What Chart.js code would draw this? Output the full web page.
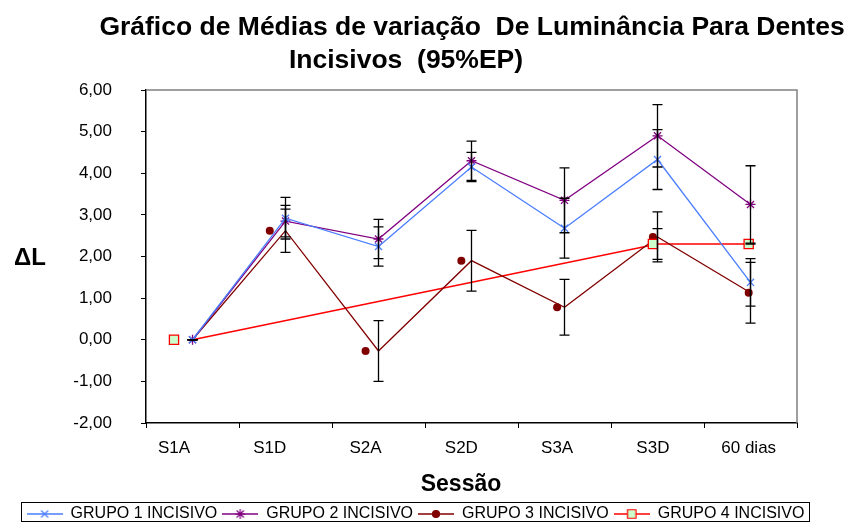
<!DOCTYPE html>
<html>
<head>
<meta charset="utf-8">
<script src="https://cdn.jsdelivr.net/npm/chart.js@4/dist/chart.umd.min.js"></script>
<style>
  html,body{margin:0;padding:0;background:#fff}
  #wrap{width:848px;height:524px;position:relative;overflow:hidden}
</style>
</head>
<body>
<div id="wrap"><canvas id="c"></canvas></div>
<script>
// Data
const sessions = ["S1A","S1D","S2A","S2D","S3A","S3D","60 dias"];
const yTicks = [-2,-1,0,1,2,3,4,5,6];
const grupo1 = [0, 2.92, 2.24, 4.15, 2.68, 4.33, 1.38];
const grupo1Err = [0, 0.50, 0.47, 0.35, 0.72, 0.72, 0.57];
const grupo2 = [0, 2.85, 2.42, 4.30, 3.35, 4.90, 3.25];
const grupo2Err = [0, 0.38, 0.47, 0.47, 0.78, 0.75, 0.93];
const grupo3 = [0, 2.62, -0.27, 1.90, 0.78, 2.47, 1.13];
const grupo3Err = [0, 0.52, 0.73, 0.73, 0.67, 0.60, 0.73];
const grupo4 = [0, null, null, null, null, 2.30, 2.30];
const grupo4Err = [0, null, null, null, null, 0.37, 0];
const names = ["GRUPO 1 INCISIVO","GRUPO 2 INCISIVO","GRUPO 3 INCISIVO","GRUPO 4 INCISIVO"];

const FONT = '"Liberation Sans", Arial, sans-serif';
const C1="#4a7dff", C2="#800080", C3="#800000", C4="#ff0000", SQ="#ccffcc";

const pts = arr => arr.map((v,i)=>({x:i, y:v}));
const fmt = v => v.toFixed(2).replace(".", ",");

// legend icons: line with marker in the middle
function icon(color, style, fill, r, lw){
  const c=document.createElement("canvas"); c.width=36; c.height=14;
  const g=c.getContext("2d");
  g.strokeStyle=color; g.lineWidth=lw;
  g.beginPath(); g.moveTo(0,7); g.lineTo(36,7); g.stroke();
  g.fillStyle=fill; g.lineWidth=1.2;
  Chart.helpers.drawPoint(g,{pointStyle:style,radius:r,borderWidth:1.2,rotation:0},18,7);
  return c;
}

const errorBars = {
  id:"errorBars",
  afterDatasetsDraw(chart){
    const {ctx, scales:{x2, y}} = chart;
    const sets=[[grupo1,grupo1Err],[grupo2,grupo2Err],[grupo3,grupo3Err],[grupo4,grupo4Err]];
    ctx.save();
    ctx.strokeStyle="#000"; ctx.lineWidth=1.3;
    sets.forEach(([vals,errs])=>{
      vals.forEach((v,i)=>{
        if(v==null || errs[i]==null) return;
        const px=x2.getPixelForValue(i), t=y.getPixelForValue(v+errs[i]), b=y.getPixelForValue(v-errs[i]);
        ctx.beginPath();
        ctx.moveTo(px,t); ctx.lineTo(px,b);
        ctx.moveTo(px-5,t); ctx.lineTo(px+5,t);
        ctx.moveTo(px-5,b); ctx.lineTo(px+5,b);
        ctx.stroke();
      });
    });
    ctx.restore();
  }
};

const frame = {
  id:"frame",
  afterDraw(chart){
    const {ctx, chartArea:a, scales:{x2}} = chart;
    ctx.save();
    // plot area border top/right
    ctx.strokeStyle="#808080"; ctx.lineWidth=1.5;
    ctx.beginPath(); ctx.moveTo(a.left,a.top); ctx.lineTo(a.right,a.top); ctx.lineTo(a.right,a.bottom); ctx.stroke();
    // category boundary ticks
    ctx.strokeStyle="#000"; ctx.lineWidth=1;
    for(let k=0;k<=sessions.length;k++){
      const px=Math.round(x2.getPixelForValue(k-0.5))+0.5;
      ctx.beginPath(); ctx.moveTo(px,a.bottom); ctx.lineTo(px,a.bottom+5); ctx.stroke();
    }
    // titles
    ctx.fillStyle="#000"; ctx.textAlign="center"; ctx.textBaseline="middle";
    ctx.font="bold 26.5px "+FONT;
    ctx.fillText("Gráfico de Médias de variação  De Luminância Para Dentes", 472, 28);
    ctx.fillText("Incisivos  (95%EP)", 406, 61);
    ctx.font="bold 23px "+FONT;
    ctx.fillText("Sessão", 461, 485);
    ctx.font="bold 24px "+FONT;
    ctx.fillText("ΔL", 30, 258);
    // legend box
    const lg=chart.legend;
    if(lg && lg.legendHitBoxes.length){
      const hb=lg.legendHitBoxes;
      const l=Math.min(...hb.map(h=>h.left))-6, r=Math.max(...hb.map(h=>h.left+h.width))+4;
      const t=Math.min(...hb.map(h=>h.top))-4;
      ctx.strokeStyle="#000"; ctx.lineWidth=1;
      ctx.strokeRect(Math.round(l)+0.5, Math.round(t)+0.5, Math.round(r-l), 19);
    }
    ctx.restore();
  }
};

const icons = [
  icon(C1,"crossRot",C1,5,1.3),
  icon(C2,"star",C2,5,1.3),
  icon(C3,"circle",C3,3.5,1.3),
  icon(C4,"rect",SQ,6,1.3)
];

new Chart(document.getElementById("c"), {
  type:"line",
  data:{ datasets:[
    { label:names[0], data:pts(grupo1), xAxisID:"x2", borderColor:C1, backgroundColor:C1, borderWidth:1.3,
      pointStyle:"crossRot", pointRadius:5, pointBorderWidth:1.3 },
    { label:names[1], data:pts(grupo2), xAxisID:"x2", borderColor:C2, backgroundColor:C2, borderWidth:1.3,
      pointStyle:"star", pointRadius:5, pointBorderWidth:1.3 },
    { label:names[3]+" pts", data:pts(grupo4), xAxisID:"x", showLine:false, borderColor:C4, backgroundColor:SQ,
      pointStyle:"rect", pointRadius:6.5, pointBorderWidth:1.3 },
    { label:names[2]+" pts", data:pts(grupo3), xAxisID:"x", showLine:false, borderColor:C3, backgroundColor:C3,
      pointStyle:"circle", pointRadius:4, pointBorderWidth:0 },
    { label:names[2], data:pts(grupo3), xAxisID:"x2", borderColor:C3, borderWidth:1.3, pointRadius:0 },
    { label:names[3], data:pts(grupo4), xAxisID:"x2", borderColor:C4, borderWidth:1.6, pointRadius:0, spanGaps:true }
  ]},
  options:{
    responsive:true, maintainAspectRatio:false, animation:false,
    layout:{ padding:{ top:90, right:17, bottom:-8, left:0 } },
    plugins:{
      tooltip:{enabled:false},
      legend:{ position:"bottom",
        labels:{ usePointStyle:true, pointStyleWidth:36, padding:5, color:"#000", font:{family:FONT,size:16},
          generateLabels:()=>names.map((n,i)=>({ text:n, pointStyle:icons[i], fillStyle:"#000", strokeStyle:"#000", lineWidth:0, hidden:false, datasetIndex:i })) },
        onClick:()=>{} }
    },
    scales:{
      x:{ type:"linear", position:"bottom", min:(146-174)/95.78, max:(797-174)/95.78,
        afterBuildTicks:s=>{ s.ticks = sessions.map((_,i)=>({value:i})); },
        afterFit:s=>{ s.height = 78; },
        grid:{ display:false, drawTicks:false },
        border:{ display:true, color:"#000", width:1.5 },
        ticks:{ padding:15, color:"#000", font:{family:FONT,size:17}, maxRotation:0, autoSkip:false,
          callback:v=>sessions[v] ?? "" } },
      x2:{ type:"linear", display:false, min:-0.5, max:6.5 },
      y:{ min:-2, max:6,
        afterBuildTicks:s=>{ s.ticks = yTicks.map(v=>({value:v})); },
        afterFit:s=>{ s.width = 146; },
        grid:{ drawOnChartArea:false, drawTicks:true, tickLength:5, color:"#000" },
        border:{ display:true, color:"#000", width:1.5 },
        ticks:{ padding:29, color:"#000", font:{family:FONT,size:17}, callback:v=>fmt(v) } },
      // empty right-hand spacer so the plot ends where the reference does
      yR:{ type:"linear", position:"right", min:-2, max:6,
        afterFit:s=>{ s.width = 34; },
        grid:{ display:false }, border:{ display:false }, ticks:{ display:false } }
    }
  },
  plugins:[errorBars, frame]
});
</script>
</body>
</html>
